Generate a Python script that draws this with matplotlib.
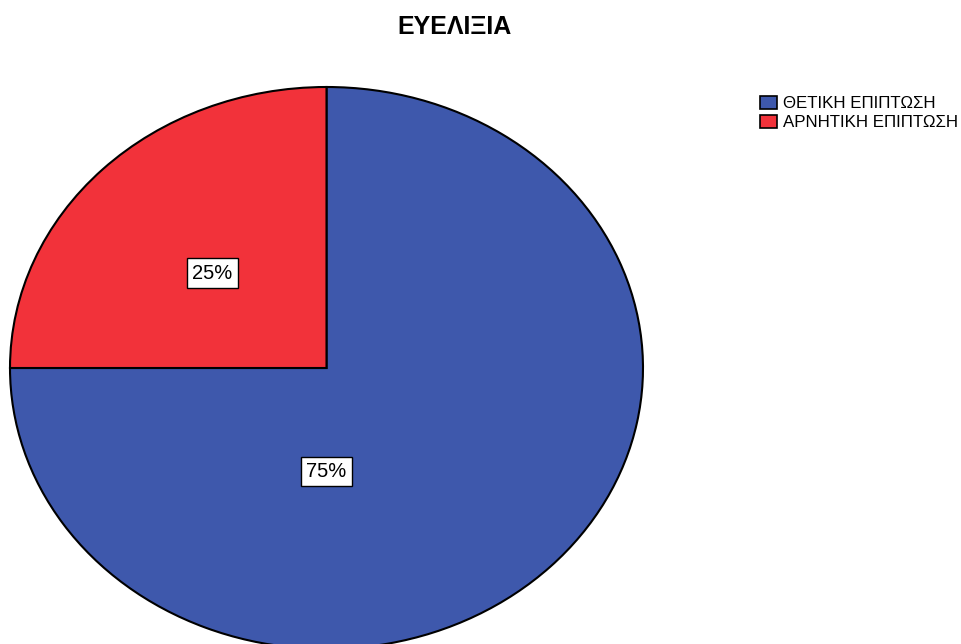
import numpy as np
import matplotlib
matplotlib.use('Agg')
import matplotlib.pyplot as plt

plt.rcParams['font.family'] = ['Liberation Sans', 'DejaVu Sans']

## data
categories = ['ΘΕΤΙΚΗ ΕΠΙΠΤΩΣΗ', 'ΑΡΝΗΤΙΚΗ ΕΠΙΠΤΩΣΗ']
values = [75, 25]
colors = ['#3E58AC', '#F2323A']
title = 'ΕΥΕΛΙΞΙΑ'

fig = plt.figure(figsize=(9.62, 6.44), dpi=100)
ax = fig.add_axes([0, 0, 1, 1])

wedges, _ = ax.pie(values, colors=colors, startangle=90, counterclock=False,
                   wedgeprops=dict(edgecolor='black', linewidth=1.5))
ax.set_aspect('auto')

## pixel layout: centre (326.5, 368), radii 316.5 x 281
rx, ry = 316.5, 281.0
cx, cy = 326.5, 368.0
ax.set_xlim(-cx / rx, (962 - cx) / rx)
ax.set_ylim(-(644 - cy) / ry, cy / ry)
ax.axis('off')

## percent labels (SPSS style placement)
box = dict(boxstyle='square,pad=0.25', fc='white', ec='black', lw=1)
tot = sum(values)
ax.text(-0.36, 0.338, f'{values[1] / tot * 100:.0f}%', ha='center', va='center',
        fontsize=14.5, bbox=box)
ax.text(0.0, -0.367, f'{values[0] / tot * 100:.0f}%', ha='center', va='center',
        fontsize=14.5, bbox=box)

fig.text(455 / 962, 1 - 27 / 644, title, ha='center', va='center',
         fontsize=18, fontweight='bold')

leg = fig.legend(wedges, categories, loc='upper left',
                 bbox_to_anchor=(748 / 962, 1 - 84 / 644), frameon=False,
                 fontsize=12.2, handlelength=1.0, handleheight=0.8,
                 handletextpad=0.35, labelspacing=0.2, borderpad=0.2)
for h in leg.legend_handles:
    h.set_edgecolor('black')
    h.set_linewidth(1.2)

fig.savefig('out.png', dpi=100)
